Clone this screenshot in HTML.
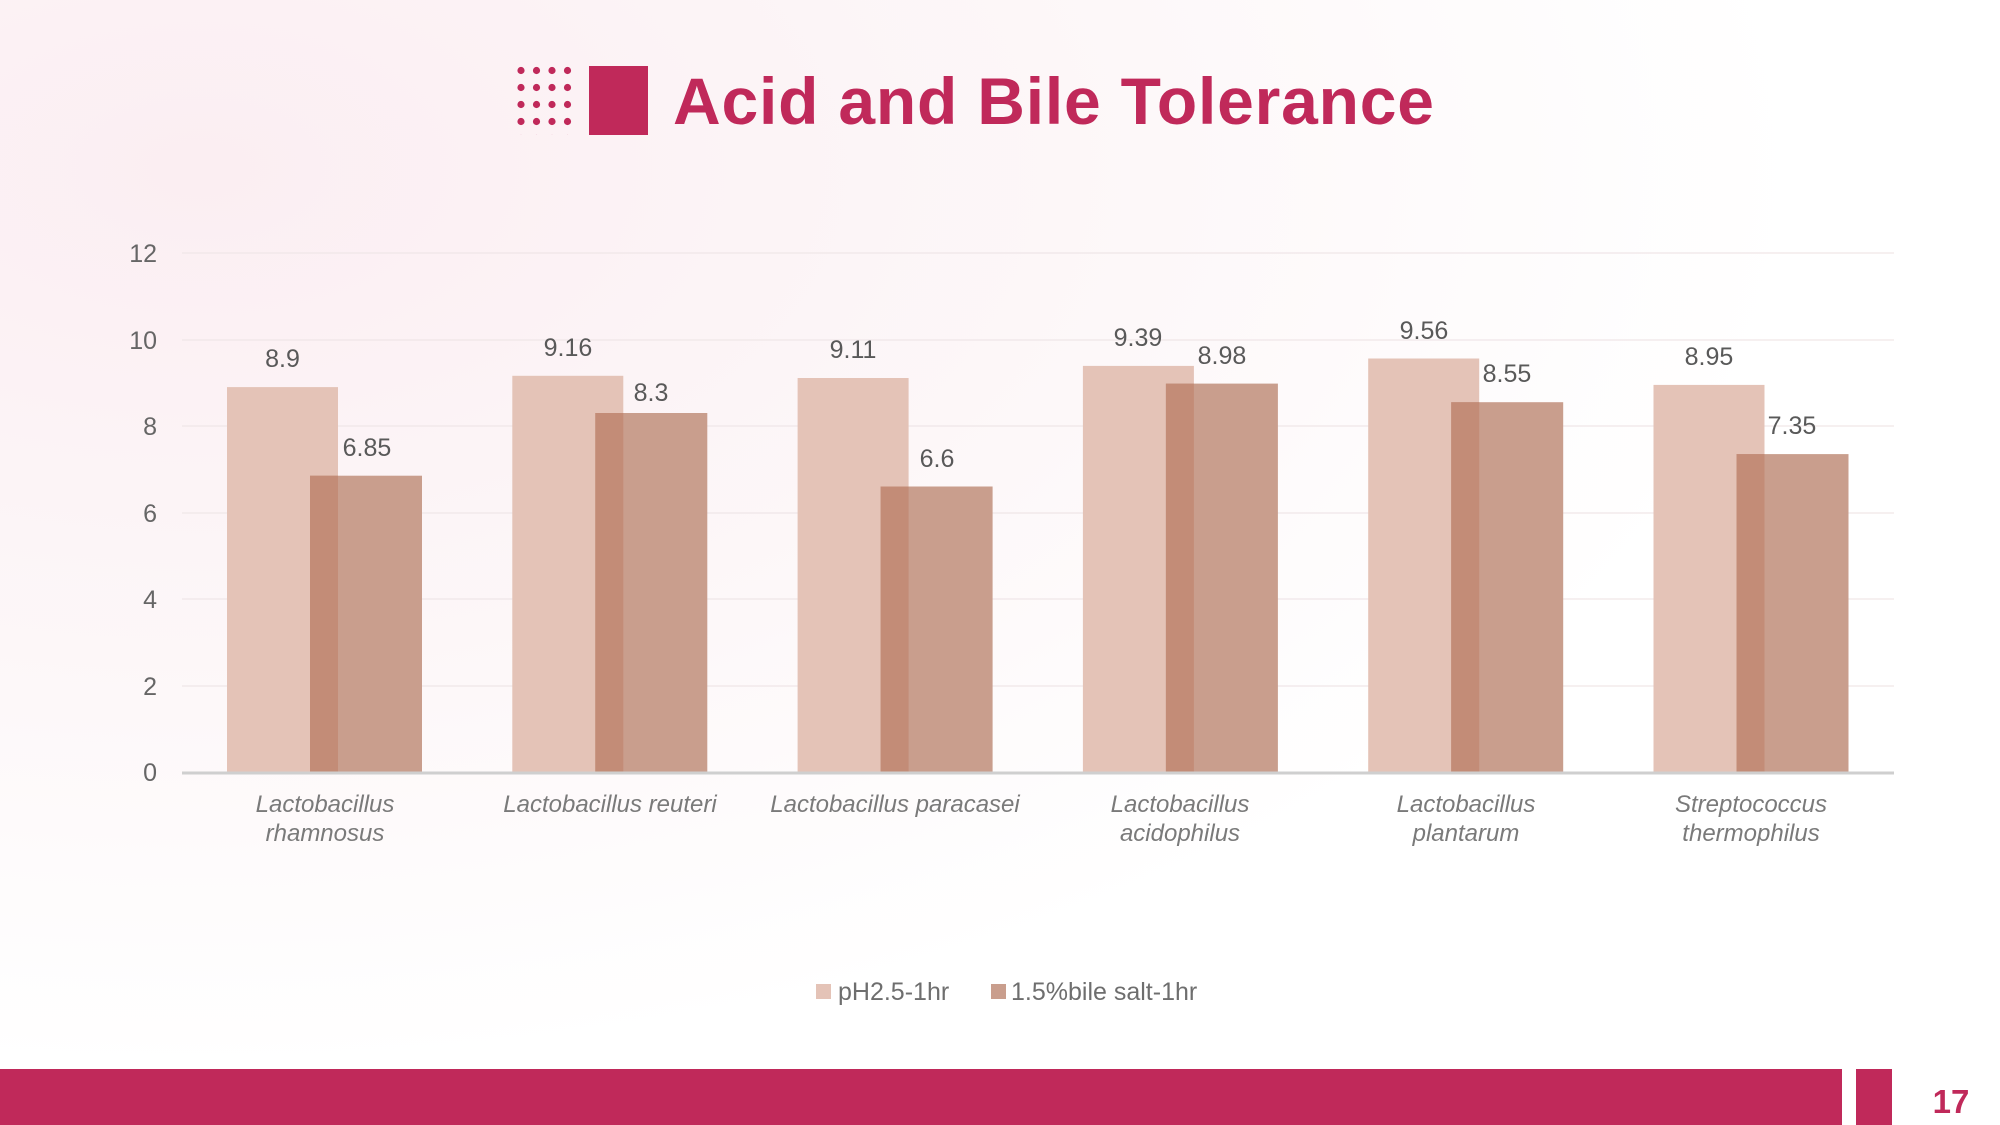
<!DOCTYPE html>
<html><head><meta charset="utf-8"><style>
html,body{margin:0;padding:0;width:2000px;height:1125px;overflow:hidden;background:#fff}
svg{display:block}
text{font-family:"Liberation Sans","DejaVu Sans",sans-serif}
</style></head><body>
<svg width="2000" height="1125" viewBox="0 0 2000 1125" xmlns="http://www.w3.org/2000/svg">
<defs>
<radialGradient id="bg" cx="0.1" cy="0.15" r="0.8">
<stop offset="0" stop-color="#fbeef2"/><stop offset="0.6" stop-color="#fdf8f9"/><stop offset="1" stop-color="#ffffff"/>
</radialGradient>
<pattern id="dots" x="517" y="66" width="15.5" height="17" patternUnits="userSpaceOnUse">
<circle cx="4" cy="4.5" r="3.6" fill="#c0295a"/>
</pattern>
</defs>
<rect width="2000" height="1125" fill="url(#bg)"/>
<rect x="517" y="66" width="62" height="69" fill="url(#dots)"/>
<rect x="589" y="66" width="59" height="69" fill="#c0295a"/>
<text x="673" y="124" font-size="66" font-weight="bold" fill="#c0295a" letter-spacing="0.8">Acid and Bile Tolerance</text>
<g stroke="#f0e6e8" stroke-width="1.3">
<line x1="182" y1="253" x2="1894" y2="253"/><line x1="182" y1="340" x2="1894" y2="340"/>
<line x1="182" y1="426" x2="1894" y2="426"/><line x1="182" y1="513" x2="1894" y2="513"/>
<line x1="182" y1="599" x2="1894" y2="599"/><line x1="182" y1="686" x2="1894" y2="686"/>
</g>
<g font-size="25" fill="#666" text-anchor="end">
<text x="157" y="262">12</text><text x="157" y="349">10</text><text x="157" y="435">8</text>
<text x="157" y="522">6</text><text x="157" y="608">4</text><text x="157" y="695">2</text><text x="157" y="781">0</text>
</g>
<g fill="#e4c3b7">
<rect x="227" y="387.1" width="111" height="384.9"/>
<rect x="512.3" y="375.8" width="111" height="396.2"/>
<rect x="797.6" y="378" width="111" height="394"/>
<rect x="1082.9" y="365.9" width="111" height="406.1"/>
<rect x="1368.2" y="358.5" width="111" height="413.5"/>
<rect x="1653.5" y="384.9" width="111" height="387.1"/>
</g>
<g fill="#c99e8d">
<rect x="310" y="475.7" width="112" height="296.3"/>
<rect x="595.3" y="413" width="112" height="359"/>
<rect x="880.6" y="486.5" width="112" height="285.5"/>
<rect x="1165.9" y="383.6" width="112" height="388.4"/>
<rect x="1451.2" y="402.2" width="112" height="369.8"/>
<rect x="1736.5" y="454.1" width="112" height="317.9"/>
</g>
<g fill="#c38c77">
<rect x="310" y="475.7" width="28" height="296.3"/>
<rect x="595.3" y="413" width="28" height="359"/>
<rect x="880.6" y="486.5" width="28" height="285.5"/>
<rect x="1165.9" y="383.6" width="28" height="388.4"/>
<rect x="1451.2" y="402.2" width="28" height="369.8"/>
<rect x="1736.5" y="454.1" width="28" height="317.9"/>
</g>
<line x1="182" y1="773" x2="1894" y2="773" stroke="#cfcfcf" stroke-width="3"/>
<g font-size="25" fill="#595959" text-anchor="middle">
<text x="282.5" y="367">8.9</text><text x="367" y="456">6.85</text>
<text x="568" y="356">9.16</text><text x="651" y="401">8.3</text>
<text x="853" y="358">9.11</text><text x="937" y="467">6.6</text>
<text x="1138" y="346">9.39</text><text x="1222" y="364">8.98</text>
<text x="1424" y="339">9.56</text><text x="1507" y="382">8.55</text>
<text x="1709" y="365">8.95</text><text x="1792" y="434">7.35</text>
</g>
<g font-size="24" fill="#7a7a7a" font-style="italic" text-anchor="middle">
<text x="325" y="812">Lactobacillus</text><text x="325" y="841">rhamnosus</text>
<text x="610" y="812">Lactobacillus reuteri</text>
<text x="895" y="812">Lactobacillus paracasei</text>
<text x="1180" y="812">Lactobacillus</text><text x="1180" y="841">acidophilus</text>
<text x="1466" y="812">Lactobacillus</text><text x="1466" y="841">plantarum</text>
<text x="1751" y="812">Streptococcus</text><text x="1751" y="841">thermophilus</text>
</g>
<rect x="816" y="984" width="15" height="15" fill="#e4c3b7"/>
<text x="838" y="1000" font-size="25" fill="#6e6e6e">pH2.5-1hr</text>
<rect x="991" y="984" width="15" height="15" fill="#c99e8d"/>
<text x="1011" y="1000" font-size="25" fill="#6e6e6e">1.5%bile salt-1hr</text>
<rect x="0" y="1069" width="1842" height="56" fill="#c0295a"/>
<rect x="1856" y="1069" width="36" height="56" fill="#c0295a"/>
<text x="1951" y="1113" font-size="33" font-weight="bold" fill="#c0295a" text-anchor="middle">17</text>
</svg>
</body></html>
